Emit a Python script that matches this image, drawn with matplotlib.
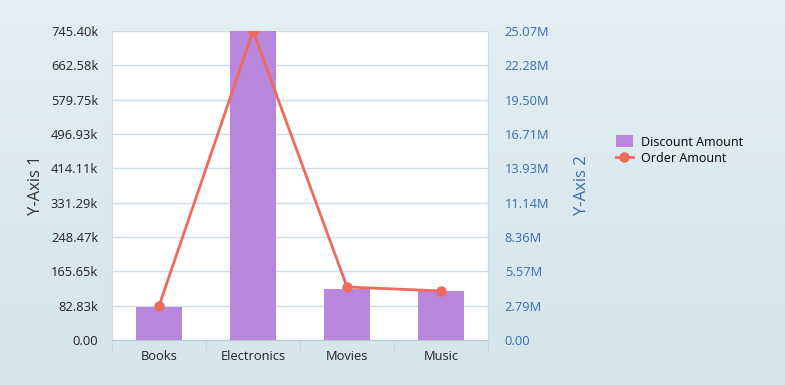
import numpy as np
import matplotlib.pyplot as plt
from matplotlib.colors import LinearSegmentedColormap

plt.rcParams['font.family'] = ['Open Sans', 'DejaVu Sans']

categories = ['Books', 'Electronics', 'Movies', 'Music']
discount = [79600, 745400, 123000, 118000]
orders = [2.76e6, 25.07e6, 4.30e6, 3.98e6]
left_labels = ['0.00', '82.83k', '165.65k', '248.47k', '331.29k', '414.11k',
               '496.93k', '579.75k', '662.58k', '745.40k']
right_labels = ['0.00', '2.79M', '5.57M', '8.36M', '11.14M', '13.93M',
                '16.71M', '19.50M', '22.28M', '25.07M']

fig = plt.figure(figsize=(7.85, 3.85), dpi=100)
fig.patch.set_facecolor('#dcebf0')

# soft background gradient
bg = fig.add_axes([0, 0, 1, 1], zorder=-10)
grad = np.linspace(0, 1, 256).reshape(-1, 1)
bg.imshow(grad, aspect='auto', extent=[0, 1, 0, 1],
          cmap=LinearSegmentedColormap.from_list('bg', ['#e2eff3', '#d4e5ec']))
bg.axis('off')

ax = fig.add_axes([0.1427, 0.1169, 0.479, 0.8026])
ax.set_facecolor('white')
x = np.arange(len(categories))
ax.bar(x, discount, width=0.49, color='#b886db', zorder=2, label='Discount Amount')
ax.set_xlim(-0.5, 3.5)
ax.set_ylim(0, 745400)
ax.set_yticks(np.linspace(0, 745400, 10))
ax.set_yticklabels(left_labels)
ax.grid(axis='y', color='#cfdde6', linewidth=1, zorder=0)
ax.set_xticks(x)
ax.set_xticklabels(categories)
ax.tick_params(axis='x', length=0, pad=7, labelsize=9.3, colors='#222222')
ax.tick_params(axis='y', length=0, pad=10, labelsize=9.3, colors='#222222')
ax.set_xticks(np.arange(-0.5, 4, 1), minor=True)
ax.tick_params(axis='x', which='minor', length=9, color='#c8d4dc', direction='out')
ax.spines['top'].set_visible(False)
ax.spines['left'].set_color('#d0dbe2')
ax.spines['right'].set_color('#d0dbe2')
ax.spines['bottom'].set_color('#b8c6d0')
ax.set_ylabel('Y-Axis 1', fontsize=12, color='#333333', labelpad=5)

ax2 = ax.twinx()
ax2.plot(x, orders, color='#ee6a5c', linewidth=2, marker='o', markersize=6.5,
         zorder=3, label='Order Amount')
ax2.set_ylim(0, 25.07e6)
ax2.set_yticks(np.linspace(0, 25.07e6, 10))
ax2.set_yticklabels(right_labels)
ax2.tick_params(axis='y', length=0, pad=12, labelsize=9.3, colors='#3a6cab')
for s in ['top', 'left', 'bottom']:
    ax2.spines[s].set_visible(False)
ax2.spines['right'].set_color('#d0dbe2')
ax2.set_ylabel('Y-Axis 2', fontsize=12, color='#3a6cab', labelpad=18)

h1, l1 = ax.get_legend_handles_labels()
h2, l2 = ax2.get_legend_handles_labels()
fig.legend(h1 + h2, l1 + l2, loc='center left', bbox_to_anchor=(0.77, 0.61),
           frameon=False, fontsize=9, handlelength=1.4, handleheight=1.1,
           handletextpad=0.6, labelspacing=0.25)

fig.savefig('out.png', dpi=100, facecolor=fig.get_facecolor())
